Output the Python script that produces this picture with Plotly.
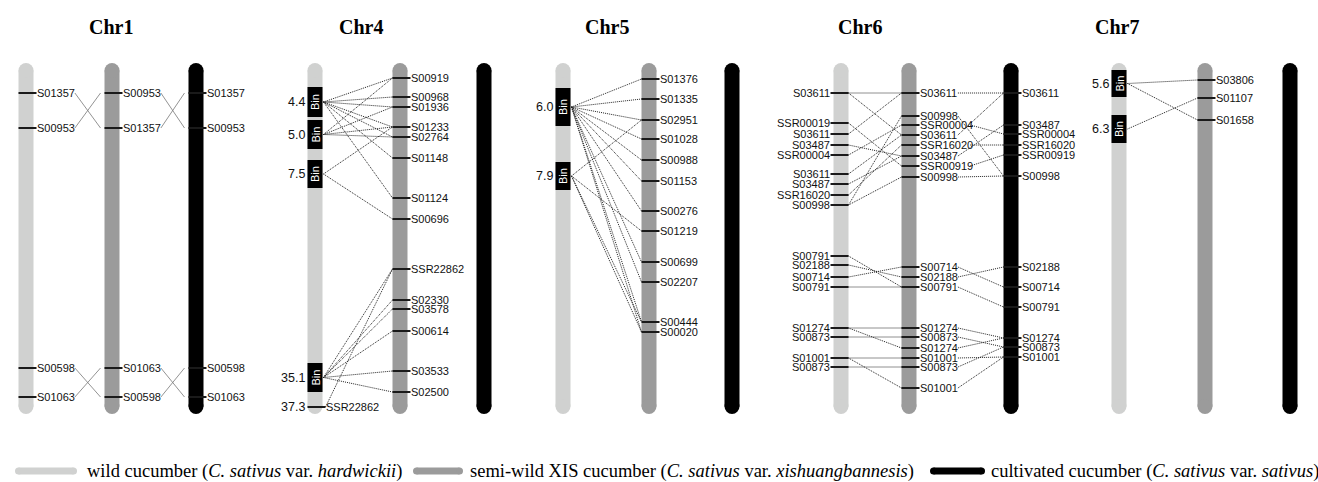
import plotly.graph_objects as go

# ---------------- data (positions read along each chromosome, top = small) ----------------
chr1_wild_names = ["S01357", "S00953", "S00598", "S01063"]
chr1_wild_pos = [93, 128, 368, 397]
chr1_semi_names = ["S00953", "S01357", "S01063", "S00598"]
chr1_semi_pos = [93, 128, 368, 397]
chr1_cult_names = ["S01357", "S00953", "S00598", "S01063"]
chr1_cult_pos = [93, 128, 368, 397]
chr1_links_ws = [(0, 1), (1, 0), (2, 3), (3, 2)]
chr1_links_sc = [(0, 1), (1, 0), (2, 3), (3, 2)]

chr4_bin_labels = ["4.4", "5.0", "7.5", "35.1"]
chr4_bin_top = [87, 120, 160, 363]
chr4_bin_bottom = [117, 149, 188, 392]
chr4_wild_names = ["SSR22862"]
chr4_wild_pos = [407]
chr4_wild_num = ["37.3"]
chr4_semi_names = ["S00919", "S00968", "S01936", "S01233", "S02764", "S01148", "S01124",
                   "S00696", "SSR22862", "S02330", "S03578", "S00614", "S03533", "S02500"]
chr4_semi_pos = [78, 97, 107, 127, 137, 158, 198, 219, 269, 300, 309, 331, 371, 392]
chr4_bin_links = [(0, [0, 1, 2, 3, 4, 5, 6]), (1, [0, 2, 3, 4]), (2, [3, 7]),
                  (3, [8, 9, 10, 11, 12, 13])]
chr4_links_ws = [(0, 8)]

chr5_bin_labels = ["6.0", "7.9"]
chr5_bin_top = [88, 162]
chr5_bin_bottom = [126, 190]
chr5_semi_names = ["S01376", "S01335", "S02951", "S01028", "S00988", "S01153", "S00276",
                   "S01219", "S00699", "S02207", "S00444", "S00020"]
chr5_semi_pos = [79, 99, 120, 139, 160, 181, 211, 231, 262, 282, 322, 332]
chr5_bin_links = [(0, [0, 1, 2, 3, 4, 5, 6, 8, 9, 10, 11]), (1, [2, 7, 10, 11])]

chr6_wild_names = ["S03611", "SSR00019", "S03611", "S03487", "SSR00004", "S03611", "S03487",
                   "SSR16020", "S00998", "S00791", "S02188", "S00714", "S00791", "S01274",
                   "S00873", "S01001", "S00873"]
chr6_wild_pos = [93, 123, 134, 145, 155, 174, 184, 195, 205, 256, 265, 277, 287, 328, 337, 358, 367]
chr6_semi_names = ["S03611", "S00998", "SSR00004", "S03611", "SSR16020", "S03487", "SSR00919",
                   "S00998", "S00714", "S02188", "S00791", "S01274", "S00873", "S01274",
                   "S01001", "S00873", "S01001"]
chr6_semi_pos = [93, 116, 125, 135, 145, 156, 166, 177, 267, 277, 287, 328, 337, 348, 358, 367, 388]
chr6_cult_names = ["S03611", "S03487", "SSR00004", "SSR16020", "SSR00919", "S00998",
                   "S02188", "S00714", "S00791", "S01274", "S00873", "S01001"]
chr6_cult_pos = [93, 125, 134, 145, 155, 176, 267, 287, 307, 338, 347, 357]
chr6_links_ws = [(0, 0), (0, 3), (1, 6), (2, 0), (3, 5), (4, 2), (5, 3), (6, 5), (7, 4),
                 (8, 1), (8, 7), (9, 10), (10, 9), (11, 8), (12, 10), (13, 11), (13, 13),
                 (14, 12), (15, 14), (15, 16), (16, 15)]
chr6_links_sc = [(0, 0), (3, 0), (1, 5), (2, 2), (4, 3), (5, 1), (6, 4), (7, 5), (8, 7),
                 (9, 6), (10, 8), (11, 9), (12, 10), (13, 9), (14, 11), (15, 10), (16, 11)]

chr7_bin_labels = ["5.6", "6.3"]
chr7_bin_top = [70, 115]
chr7_bin_bottom = [97, 143]
chr7_semi_names = ["S03806", "S01107", "S01658"]
chr7_semi_pos = [80, 98, 120]
chr7_bin_links = [(0, [0, 2]), (1, [1])]

titles = ["Chr1", "Chr4", "Chr5", "Chr6", "Chr7"]
legend_labels = [
    "wild cucumber (<i>C. sativus</i> var. <i>hardwickii</i>)",
    "semi-wild XIS cucumber (<i>C. sativus</i> var. <i>xishuangbannesis</i>)",
    "cultivated cucumber (<i>C. sativus</i> var. <i>sativus</i>)",
]

# ---------------- layout / style ----------------
W, H = 1318, 482
COL = ["#d0d1d0", "#9b9b9b", "#000000"]
HALF = 7.5
BAR_TOP, BAR_BOTTOM = 63, 414
CHR_X = [(26, 112, 196), (315, 400, 484), (563, 649, 732), (841, 909, 1011), (1119, 1205, 1290)]
TITLE_X = [111, 361, 607, 860, 1117]
END_GAP = [4, 0, 0, 0, 0]
LBL_FONT = dict(family="Liberation Sans, Arial", size=11, color="#111")
CW = 6.15
LBL_OFF = 1.5

chroms = [
    dict(wild=(chr1_wild_names, chr1_wild_pos, None, "right"), semi=(chr1_semi_names, chr1_semi_pos),
         cult=(chr1_cult_names, chr1_cult_pos), bins=None, ws=chr1_links_ws, sc=chr1_links_sc, bl=[]),
    dict(wild=(chr4_wild_names, chr4_wild_pos, chr4_wild_num, "right"), semi=(chr4_semi_names, chr4_semi_pos),
         cult=([], []), bins=(chr4_bin_labels, chr4_bin_top, chr4_bin_bottom), ws=chr4_links_ws, sc=[],
         bl=chr4_bin_links),
    dict(wild=([], [], None, "right"), semi=(chr5_semi_names, chr5_semi_pos), cult=([], []),
         bins=(chr5_bin_labels, chr5_bin_top, chr5_bin_bottom), ws=[], sc=[], bl=chr5_bin_links),
    dict(wild=(chr6_wild_names, chr6_wild_pos, None, "left"), semi=(chr6_semi_names, chr6_semi_pos),
         cult=(chr6_cult_names, chr6_cult_pos), bins=None, ws=chr6_links_ws, sc=chr6_links_sc, bl=[]),
    dict(wild=([], [], None, "right"), semi=(chr7_semi_names, chr7_semi_pos), cult=([], []),
         bins=(chr7_bin_labels, chr7_bin_top, chr7_bin_bottom), ws=[], sc=[], bl=chr7_bin_links),
]

fig = go.Figure()
annotations = []
shapes = []

# chromosome bars (round ends via end markers)
for ci, xs in enumerate(CHR_X):
    for k, x in enumerate(xs):
        fig.add_trace(go.Scatter(
            x=[x, x], y=[BAR_TOP + HALF, BAR_BOTTOM - HALF], mode="lines+markers",
            line=dict(color=COL[k], width=2 * HALF),
            marker=dict(color=COL[k], size=2 * HALF, line=dict(width=0)),
            hoverinfo="skip", showlegend=False))
    annotations.append(dict(x=TITLE_X[ci], y=27, text="<b>%s</b>" % titles[ci], showarrow=False,
                            xanchor="center", yanchor="middle",
                            font=dict(family="Liberation Serif, Times New Roman", size=20, color="#000")))

tick_x, tick_y = [], []
dot_x, dot_y = [], []
sol_x, sol_y = [], []


def add_tick(x, y, side):
    if side == "right":
        tick_x.extend([x - HALF, x + HALF + 3, None])
    else:
        tick_x.extend([x - HALF - 3, x + HALF, None])
    tick_y.extend([y, y, None])


def add_label(x, y, name, side):
    if side == "right":
        annotations.append(dict(x=x + HALF + LBL_OFF, y=y, text=name, showarrow=False, xanchor="left",
                                yanchor="middle", font=LBL_FONT))
    else:
        annotations.append(dict(x=x - HALF - LBL_OFF, y=y, text=name, showarrow=False, xanchor="right",
                                yanchor="middle", font=LBL_FONT))


def label_end(x, name):
    return x + HALF + LBL_OFF + 2 + CW * len(name) + 1


for ci, c in enumerate(chroms):
    xw, xs, xc = CHR_X[ci]
    wn, wp, wnum, wside = c["wild"]
    sn, sp = c["semi"]
    cn, cp = c["cult"]
    for i, (n, p) in enumerate(zip(wn, wp)):
        add_tick(xw, p, wside)
        add_label(xw, p, n, wside)
        if wnum:
            annotations.append(dict(x=xw - HALF - 1, y=p, text=wnum[i], showarrow=False, xanchor="right",
                                    yanchor="middle", font=dict(family="Liberation Sans, Arial", size=12.5,
                                                                color="#111")))
    for n, p in zip(sn, sp):
        add_tick(xs, p, "right")
        add_label(xs, p, n, "right")
    for n, p in zip(cn, cp):
        add_tick(xc, p, "right")
        add_label(xc, p, n, "right")

    if c["bins"]:
        bl, bt, bb = c["bins"]
        for lab, t, b in zip(bl, bt, bb):
            shapes.append(dict(type="rect", xref="x", yref="y", x0=xw - HALF, x1=xw + HALF, y0=t, y1=b,
                               fillcolor="#000", line=dict(width=0), layer="above"))
            annotations.append(dict(x=xw, y=(t + b) / 2, text="Bin", textangle=-90, showarrow=False,
                                    xanchor="center", yanchor="middle",
                                    font=dict(family="Liberation Sans, Arial", size=11, color="#fff")))
            annotations.append(dict(x=xw - HALF - 1, y=(t + b) / 2, text=lab, showarrow=False,
                                    xanchor="right", yanchor="middle",
                                    font=dict(family="Liberation Sans, Arial", size=12.5, color="#111")))
        for bi, targets in c["bl"]:
            yb = (bt[bi] + bb[bi]) / 2
            for tj in targets:
                dot_x.extend([xw + HALF + 1, xs - HALF, None])
                dot_y.extend([yb, sp[tj], None])

    gap = END_GAP[ci]
    tx, ty = (sol_x, sol_y) if ci == 0 else (dot_x, dot_y)
    for a, b in c["ws"]:
        if c["bins"]:
            x0 = xw + HALF + 3
        elif wside == "right":
            x0 = label_end(xw, wn[a])
        else:
            x0 = xw + HALF
        tx.extend([x0, xs - HALF - gap, None])
        ty.extend([wp[a], sp[b], None])
    for a, b in c["sc"]:
        x0 = label_end(xs, sn[a])
        tx.extend([x0, xc - HALF - gap, None])
        ty.extend([sp[a], cp[b], None])

fig.add_trace(go.Scatter(x=dot_x, y=dot_y, mode="lines", line=dict(color="#222", width=1, dash="1px,1px"),
                         hoverinfo="skip", showlegend=False))
fig.add_trace(go.Scatter(x=sol_x, y=sol_y, mode="lines", line=dict(color="#777", width=0.8),
                         hoverinfo="skip", showlegend=False))
fig.add_trace(go.Scatter(x=tick_x, y=tick_y, mode="lines", line=dict(color="#1a1a1a", width=2),
                         hoverinfo="skip", showlegend=False))

# bottom legend
LEG_Y = 471
LEG_BARS = [(15, 77), (413, 463), (930, 985)]
LEG_TEXT_X = [85, 468, 989]
for k in range(3):
    x0, x1 = LEG_BARS[k]
    fig.add_trace(go.Scatter(x=[x0 + 3.5, x1 - 3.5], y=[LEG_Y, LEG_Y], mode="lines+markers",
                             line=dict(color=COL[k], width=7), marker=dict(color=COL[k], size=7, line=dict(width=0)),
                             hoverinfo="skip", showlegend=False))
    annotations.append(dict(x=LEG_TEXT_X[k], y=LEG_Y, text=legend_labels[k], showarrow=False, xanchor="left",
                            yanchor="middle", font=dict(family="Liberation Serif, Times New Roman", size=18.5,
                                                        color="#000")))

fig.update_layout(
    width=W, height=H, margin=dict(l=0, r=0, t=0, b=0, pad=0),
    paper_bgcolor="#fff", plot_bgcolor="#fff",
    xaxis=dict(range=[0, W], visible=False, fixedrange=True, domain=[0, 1]),
    yaxis=dict(range=[H, 0], visible=False, fixedrange=True, domain=[0, 1]),
    annotations=annotations, shapes=shapes, showlegend=False,
)

fig.write_html("out.html", config={"displayModeBar": False},
               post_script="document.body.style.margin='0';document.body.style.overflow='hidden';")
